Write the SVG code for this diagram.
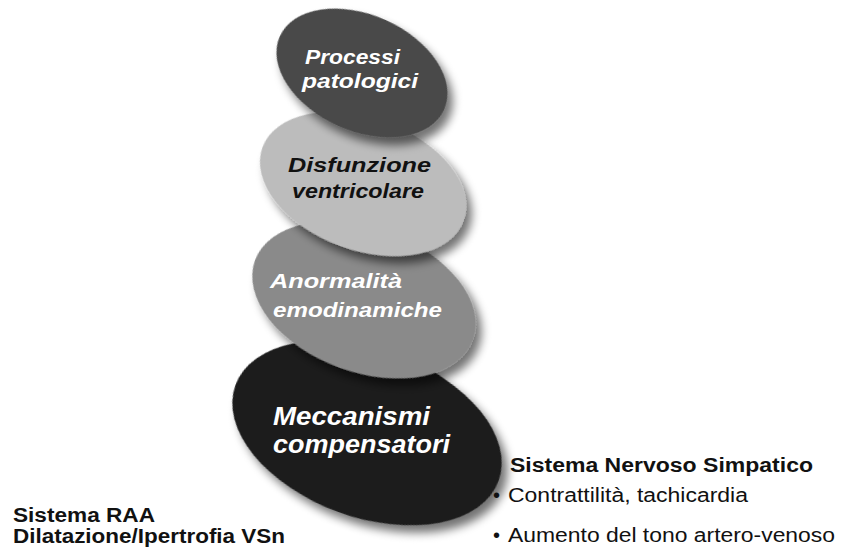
<svg xmlns="http://www.w3.org/2000/svg" width="846" height="554" viewBox="0 0 846 554">
<defs>
<filter id="sh" x="-30%" y="-30%" width="160%" height="160%">
<feGaussianBlur in="SourceAlpha" stdDeviation="5"/>
<feOffset dx="8" dy="5" result="b"/>
<feComponentTransfer><feFuncA type="linear" slope="0.55"/></feComponentTransfer>
<feMerge><feMergeNode/><feMergeNode in="SourceGraphic"/></feMerge>
</filter>
</defs>
<style>
.lbl{font-family:"Liberation Sans",Arial,sans-serif;font-weight:bold;font-style:italic}
.w{fill:#ffffff}
.k{fill:#111111}
.b{font-family:"Liberation Sans",Arial,sans-serif;font-weight:bold;fill:#111}
.r{font-family:"Liberation Sans",Arial,sans-serif;fill:#111}
</style>
<rect width="846" height="554" fill="#ffffff"/>
<g id="connectors"></g>
<g id="n4">
<ellipse cx="367" cy="433" rx="140" ry="84" transform="rotate(20 367 433)" fill="#1c1c1c" filter="url(#sh)"/>
<text class="lbl w" font-size="26" x="273" y="425" textLength="157" lengthAdjust="spacingAndGlyphs">Meccanismi</text>
<text class="lbl w" font-size="26" x="273" y="453" textLength="177" lengthAdjust="spacingAndGlyphs">compensatori</text>
</g>
<g id="n3">
<ellipse cx="364" cy="300" rx="116" ry="72" transform="rotate(20 364 300)" fill="#8a8a8a" filter="url(#sh)"/>
<text class="lbl w" font-size="21" x="270" y="288" textLength="132" lengthAdjust="spacingAndGlyphs">Anormalità</text>
<text class="lbl w" font-size="21" x="273" y="317" textLength="169" lengthAdjust="spacingAndGlyphs">emodinamiche</text>
</g>
<g id="n2">
<ellipse cx="363" cy="184" rx="107" ry="66" transform="rotate(20 363 184)" fill="#bcbcbc" filter="url(#sh)"/>
<text class="lbl k" font-size="21" x="288" y="172" textLength="143" lengthAdjust="spacingAndGlyphs">Disfunzione</text>
<text class="lbl k" font-size="21" x="292" y="198" textLength="132" lengthAdjust="spacingAndGlyphs">ventricolare</text>
</g>
<g id="n1">
<ellipse cx="362" cy="73" rx="90" ry="58" transform="rotate(24 362 73)" fill="#4a4a4a" filter="url(#sh)"/>
<text class="lbl w" font-size="20" x="305" y="64" textLength="95" lengthAdjust="spacingAndGlyphs">Processi</text>
<text class="lbl w" font-size="20" x="302" y="88" textLength="116" lengthAdjust="spacingAndGlyphs">patologici</text>
</g>
<g id="left">
<text class="b" font-size="20" x="13" y="522" textLength="142" lengthAdjust="spacingAndGlyphs">Sistema RAA</text>
<text class="b" font-size="20" x="13" y="543" textLength="272" lengthAdjust="spacingAndGlyphs">Dilatazione/Ipertrofia VSn</text>
</g>
<g id="right">
<text class="b" font-size="20" x="510" y="472" textLength="303" lengthAdjust="spacingAndGlyphs">Sistema Nervoso Simpatico</text>
<text class="r" font-size="20" x="493" y="502">•</text>
<text class="r" font-size="20" x="508" y="502" textLength="240" lengthAdjust="spacingAndGlyphs">Contrattilità, tachicardia</text>
<text class="r" font-size="20" x="493" y="542">•</text>
<text class="r" font-size="20" x="508" y="542" textLength="327" lengthAdjust="spacingAndGlyphs">Aumento del tono artero-venoso</text>
</g>
</svg>
